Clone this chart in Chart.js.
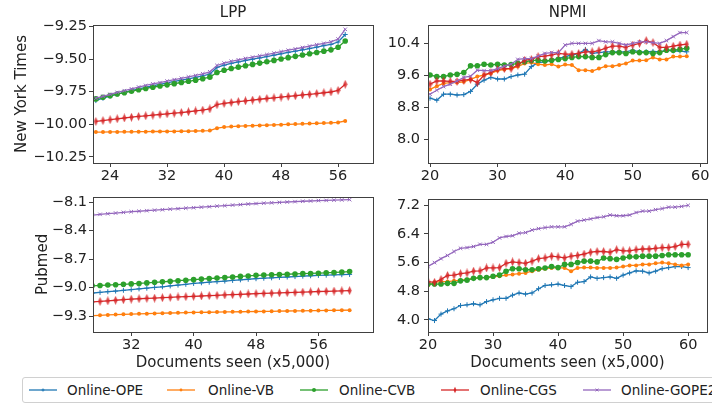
<!DOCTYPE html>
<html>
<head>
<meta charset="utf-8">
<script src="https://cdn.jsdelivr.net/npm/chart.js@4.4.1/dist/chart.umd.min.js"></script>
<style>
    body { margin: 0; width: 712px; height: 405px; overflow: hidden; background: #fff; font-family: 'DejaVu Sans', sans-serif; }
    canvas { position: absolute; }
    #legend { position: absolute; left: 22px; top: 377px; width: 720px; height: 24px; border: 1px solid #d0d0d0; border-radius: 3px; }
    .item { position: absolute; top: 0; height: 24px; font-size: 13.5px; line-height: 24px; color: #222; white-space: nowrap; }
    .item svg { position: absolute; top: 2px; }
</style>
</head>
<body>
<canvas id="tl" width="380" height="186" style="left:0;top:0"></canvas>
<canvas id="tr" width="332" height="186" style="left:380px;top:0"></canvas>
<canvas id="bl" width="380" height="190" style="left:0;top:186px"></canvas>
<canvas id="br" width="332" height="190" style="left:380px;top:186px"></canvas>
<div id="legend"></div>
<script>
// --- DATOS ---
const seriesNames = ['Online-OPE', 'Online-VB', 'Online-CVB', 'Online-CGS', 'Online-GOPE2'];
const seriesColors = ['#1f77b4', '#ff7f0e', '#2ca02c', '#d62728', '#9467bd'];

// New York Times - LPP
const nytLppX = [22, 23, 24, 25, 26, 27, 28, 29, 30, 31, 32, 33, 34, 35, 36, 37, 38, 39, 40, 41, 42, 43, 44, 45, 46, 47, 48, 49, 50, 51, 52, 53, 54, 55, 56, 57];
const nytLppOPE = [-9.818, -9.800, -9.784, -9.768, -9.755, -9.741, -9.728, -9.716, -9.704, -9.693, -9.682, -9.671, -9.661, -9.651, -9.640, -9.628, -9.614, -9.563, -9.546, -9.532, -9.521, -9.510, -9.500, -9.490, -9.480, -9.469, -9.458, -9.448, -9.438, -9.428, -9.418, -9.407, -9.396, -9.386, -9.368, -9.310];
const nytLppVB = [-10.060, -10.060, -10.059, -10.059, -10.058, -10.058, -10.057, -10.057, -10.056, -10.056, -10.055, -10.055, -10.054, -10.053, -10.052, -10.051, -10.049, -10.030, -10.022, -10.018, -10.015, -10.013, -10.011, -10.009, -10.007, -10.005, -10.003, -10.001, -9.999, -9.997, -9.995, -9.993, -9.991, -9.989, -9.986, -9.975];
const nytLppCVB = [-9.805, -9.792, -9.780, -9.768, -9.757, -9.746, -9.735, -9.725, -9.715, -9.706, -9.697, -9.688, -9.679, -9.670, -9.661, -9.650, -9.638, -9.602, -9.585, -9.572, -9.561, -9.550, -9.540, -9.530, -9.520, -9.509, -9.498, -9.488, -9.478, -9.468, -9.458, -9.448, -9.438, -9.428, -9.408, -9.360];
const nytLppCGS = [-9.978, -9.972, -9.965, -9.958, -9.952, -9.946, -9.940, -9.935, -9.930, -9.925, -9.920, -9.915, -9.910, -9.904, -9.898, -9.891, -9.882, -9.850, -9.840, -9.833, -9.826, -9.820, -9.814, -9.808, -9.802, -9.797, -9.791, -9.786, -9.781, -9.775, -9.770, -9.764, -9.758, -9.752, -9.740, -9.693];
const nytLppGOPE2 = [-9.800, -9.785, -9.770, -9.755, -9.742, -9.728, -9.714, -9.702, -9.690, -9.680, -9.668, -9.657, -9.647, -9.636, -9.625, -9.612, -9.597, -9.548, -9.530, -9.516, -9.505, -9.494, -9.484, -9.474, -9.464, -9.453, -9.442, -9.431, -9.421, -9.410, -9.399, -9.388, -9.378, -9.366, -9.345, -9.270];

// New York Times - NPMI
const nytNpmiX = [20, 21, 22, 23, 24, 25, 26, 27, 28, 29, 30, 31, 32, 33, 34, 35, 36, 37, 38, 39, 40, 41, 42, 43, 44, 45, 46, 47, 48, 49, 50, 51, 52, 53, 54, 55, 56, 57, 58];
const nytNpmiOPE = [9.03, 8.98, 9.13, 9.13, 9.11, 9.12, 9.20, 9.38, 9.48, 9.55, 9.51, 9.51, 9.57, 9.61, 9.63, 9.82, 9.92, 9.94, 9.98, 10.02, 10.07, 10.11, 10.15, 10.25, 10.15, 10.17, 10.19, 10.19, 10.19, 10.19, 10.23, 10.19, 10.19, 10.20, 10.19, 10.23, 10.21, 10.21, 10.19];
const nytNpmiVB = [9.25, 9.33, 9.40, 9.42, 9.42, 9.44, 9.50, 9.57, 9.61, 9.65, 9.72, 9.75, 9.77, 9.82, 9.90, 9.92, 9.88, 9.86, 9.88, 9.82, 9.87, 9.86, 9.73, 9.73, 9.71, 9.77, 9.83, 9.83, 9.86, 9.90, 9.97, 9.97, 9.98, 10.05, 10.00, 10.00, 10.07, 10.07, 10.08];
const nytNpmiCVB = [9.61, 9.57, 9.57, 9.61, 9.63, 9.67, 9.84, 9.84, 9.88, 9.86, 9.88, 9.86, 9.87, 9.90, 9.94, 9.97, 9.98, 9.96, 9.98, 10.00, 10.02, 10.05, 10.07, 10.07, 10.05, 10.05, 10.12, 10.17, 10.17, 10.15, 10.19, 10.17, 10.17, 10.15, 10.17, 10.23, 10.23, 10.25, 10.28];
const nytNpmiCGS = [9.38, 9.46, 9.46, 9.45, 9.45, 9.48, 9.50, 9.42, 9.61, 9.67, 9.75, 9.77, 9.77, 9.86, 9.98, 10.00, 10.07, 10.08, 10.11, 10.15, 10.13, 10.13, 10.15, 10.19, 10.19, 10.22, 10.28, 10.33, 10.33, 10.30, 10.36, 10.40, 10.47, 10.42, 10.30, 10.30, 10.33, 10.36, 10.38];
const nytNpmiGOPE2 = [9.13, 9.23, 9.32, 9.38, 9.46, 9.55, 9.58, 9.73, 9.72, 9.72, 9.77, 9.83, 9.88, 10.00, 10.02, 10.02, 10.08, 10.15, 10.17, 10.17, 10.36, 10.40, 10.40, 10.40, 10.40, 10.47, 10.44, 10.44, 10.40, 10.36, 10.40, 10.44, 10.44, 10.42, 10.40, 10.47, 10.57, 10.67, 10.67];

// Pubmed - LPP
const pubLppX = [27, 28, 29, 30, 31, 32, 33, 34, 35, 36, 37, 38, 39, 40, 41, 42, 43, 44, 45, 46, 47, 48, 49, 50, 51, 52, 53, 54, 55, 56, 57, 58, 59, 60];
const pubLppOPE = [-9.056, -9.049, -9.042, -9.035, -9.027, -9.020, -9.012, -9.005, -8.997, -8.990, -8.981, -8.972, -8.964, -8.955, -8.948, -8.942, -8.936, -8.930, -8.923, -8.917, -8.911, -8.905, -8.900, -8.896, -8.891, -8.887, -8.883, -8.878, -8.874, -8.870, -8.868, -8.865, -8.863, -8.860];
const pubLppVB = [-9.293, -9.290, -9.286, -9.283, -9.280, -9.277, -9.275, -9.273, -9.271, -9.268, -9.266, -9.264, -9.262, -9.260, -9.259, -9.258, -9.256, -9.255, -9.254, -9.253, -9.251, -9.250, -9.249, -9.248, -9.246, -9.245, -9.244, -9.243, -9.242, -9.240, -9.239, -9.238, -9.237, -9.236];
const pubLppCVB = [-8.980, -8.976, -8.972, -8.968, -8.964, -8.960, -8.955, -8.949, -8.943, -8.938, -8.932, -8.926, -8.921, -8.915, -8.909, -8.903, -8.898, -8.892, -8.887, -8.881, -8.876, -8.870, -8.867, -8.864, -8.861, -8.858, -8.855, -8.852, -8.850, -8.847, -8.843, -8.839, -8.835, -8.830];
const pubLppCGS = [-9.150, -9.144, -9.138, -9.132, -9.126, -9.120, -9.116, -9.112, -9.109, -9.105, -9.101, -9.097, -9.094, -9.090, -9.087, -9.083, -9.080, -9.076, -9.073, -9.070, -9.066, -9.063, -9.060, -9.057, -9.054, -9.051, -9.049, -9.046, -9.043, -9.040, -9.038, -9.035, -9.033, -9.030];
const pubLppGOPE2 = [-8.236, -8.228, -8.221, -8.214, -8.207, -8.200, -8.195, -8.189, -8.184, -8.179, -8.173, -8.168, -8.163, -8.158, -8.152, -8.147, -8.141, -8.136, -8.130, -8.125, -8.119, -8.114, -8.110, -8.106, -8.102, -8.098, -8.094, -8.090, -8.087, -8.083, -8.081, -8.078, -8.076, -8.073];

// Pubmed - NPMI
const pubNpmiX = [20, 21, 22, 23, 24, 25, 26, 27, 28, 29, 30, 31, 32, 33, 34, 35, 36, 37, 38, 39, 40, 41, 42, 43, 44, 45, 46, 47, 48, 49, 50, 51, 52, 53, 54, 55, 56, 57, 58, 59, 60];
const pubNpmiOPE = [4.03, 3.98, 4.16, 4.25, 4.31, 4.40, 4.42, 4.45, 4.42, 4.51, 4.56, 4.60, 4.60, 4.69, 4.75, 4.72, 4.75, 4.87, 4.96, 4.98, 5.00, 4.96, 4.93, 5.05, 5.07, 5.20, 5.16, 5.18, 5.20, 5.16, 5.25, 5.31, 5.37, 5.36, 5.31, 5.36, 5.43, 5.46, 5.49, 5.49, 5.46];
const pubNpmiVB = [4.96, 5.05, 5.07, 5.07, 5.09, 5.11, 5.13, 5.16, 5.18, 5.18, 5.20, 5.22, 5.25, 5.27, 5.29, 5.31, 5.36, 5.40, 5.43, 5.45, 5.45, 5.45, 5.36, 5.45, 5.46, 5.46, 5.45, 5.45, 5.45, 5.46, 5.49, 5.52, 5.52, 5.55, 5.55, 5.58, 5.60, 5.58, 5.55, 5.52, 5.55];
const pubNpmiCVB = [5.00, 5.00, 5.00, 5.02, 5.02, 5.09, 5.11, 5.16, 5.18, 5.18, 5.22, 5.25, 5.36, 5.43, 5.43, 5.40, 5.40, 5.43, 5.45, 5.49, 5.46, 5.55, 5.55, 5.60, 5.64, 5.64, 5.62, 5.73, 5.71, 5.69, 5.73, 5.76, 5.76, 5.78, 5.78, 5.78, 5.80, 5.82, 5.82, 5.82, 5.82];
const pubNpmiCGS = [5.07, 5.05, 5.13, 5.24, 5.25, 5.29, 5.31, 5.36, 5.37, 5.45, 5.45, 5.46, 5.58, 5.62, 5.60, 5.58, 5.64, 5.71, 5.73, 5.78, 5.76, 5.73, 5.78, 5.80, 5.84, 5.89, 5.91, 5.91, 5.89, 5.96, 5.93, 5.93, 5.96, 5.98, 5.98, 6.00, 6.02, 6.02, 6.05, 6.11, 6.11];
const pubNpmiGOPE2 = [5.49, 5.60, 5.71, 5.80, 5.91, 6.00, 6.02, 6.05, 6.11, 6.11, 6.17, 6.29, 6.33, 6.35, 6.42, 6.44, 6.51, 6.55, 6.58, 6.60, 6.60, 6.60, 6.67, 6.76, 6.79, 6.82, 6.86, 6.88, 6.93, 6.91, 6.91, 6.93, 7.00, 7.04, 7.04, 7.08, 7.11, 7.15, 7.15, 7.17, 7.20];

// Marcas de los ejes
const nytLppXTicks = [24, 32, 40, 48, 56];
const nytLppYTicks = [-10.25, -10.00, -9.75, -9.50, -9.25];
const nytNpmiXTicks = [20, 30, 40, 50, 60];
const nytNpmiYTicks = [8.0, 8.8, 9.6, 10.4];
const pubLppXTicks = [32, 40, 48, 56];
const pubLppYTicks = [-9.3, -9.0, -8.7, -8.4, -8.1];
const pubNpmiXTicks = [20, 30, 40, 50, 60];
const pubNpmiYTicks = [4.0, 4.8, 5.6, 6.4, 7.2];

// --- MARCADORES ---
function thinDiamond(color) {
    const c = document.createElement('canvas');
    c.width = 5; c.height = 9;
    const g = c.getContext('2d');
    g.fillStyle = color;
    g.globalAlpha = 0.85;
    g.beginPath();
    g.moveTo(2.5, 0); g.lineTo(4.6, 4.5); g.lineTo(2.5, 9); g.lineTo(0.4, 4.5);
    g.closePath();
    g.fill();
    return c;
}
const markerStyles = [
    { pointStyle: 'cross', pointRadius: 2.5, pointBorderWidth: 1 },
    { pointStyle: 'circle', pointRadius: 2, pointBorderWidth: 0 },
    { pointStyle: 'circle', pointRadius: 2.8, pointBorderWidth: 0 },
    { pointStyle: thinDiamond(seriesColors[3]), pointRadius: 4, pointBorderWidth: 0 },
    { pointStyle: 'crossRot', pointRadius: 2.5, pointBorderWidth: 1 }
];

const textColor = '#222';
const font = { family: "'DejaVu Sans', sans-serif", size: 14.5 };

// marco completo alrededor del área del gráfico
const framePlugin = {
    id: 'frame',
    afterDraw(chart) {
        const { ctx, chartArea: a } = chart;
        ctx.save();
        ctx.strokeStyle = '#404040';
        ctx.lineWidth = 1;
        ctx.strokeRect(Math.round(a.left) + 0.5, Math.round(a.top) + 0.5, Math.round(a.right - a.left), Math.round(a.bottom - a.top));
        ctx.restore();
    }
};

function fmt(decimals) {
    return v => v.toFixed(decimals).replace('-', '\u2212');
}

function makePanel(id, p) {
    const datasets = p.ys.map((ys, i) => Object.assign({
        label: seriesNames[i],
        data: p.xs.map((x, j) => ({ x: x, y: ys[j] })),
        borderColor: seriesColors[i],
        backgroundColor: seriesColors[i],
        pointBorderColor: seriesColors[i],
        pointBackgroundColor: seriesColors[i],
        borderWidth: 1.3,
        tension: 0,
        order: 5 - i
    }, markerStyles[i]));

    return new Chart(document.getElementById(id), {
        type: 'line',
        data: { datasets },
        plugins: [framePlugin],
        options: {
            responsive: false,
            animation: false,
            events: [],
            layout: { padding: { top: p.padTop, right: p.padRight, left: 0, bottom: 0 } },
            plugins: {
                legend: { display: false },
                tooltip: { enabled: false },
                title: {
                    display: !!p.title,
                    text: p.title,
                    fullSize: false,
                    color: textColor,
                    font: { family: font.family, size: 15, weight: 'normal', lineHeight: 1.2 },
                    padding: { top: 4, bottom: 3 }
                }
            },
            scales: {
                x: {
                    type: 'linear',
                    min: p.xMin, max: p.xMax,
                    afterBuildTicks: s => { s.ticks = p.xTicks.map(v => ({ value: v })); },
                    afterFit: s => { s.height = p.xAxisH; },
                    ticks: { color: textColor, font, padding: 1, maxRotation: 0, autoSkip: false, callback: fmt(0) },
                    grid: { drawOnChartArea: false, drawTicks: true, tickLength: 4, tickColor: '#404040' },
                    border: { display: false },
                    title: {
                        display: !!p.xTitle,
                        text: p.xTitle,
                        color: textColor,
                        font: { family: font.family, size: 15, lineHeight: 1.2 },
                        padding: { top: 0, bottom: 3.5 }
                    }
                },
                y: {
                    type: 'linear',
                    min: p.yMin, max: p.yMax,
                    afterBuildTicks: s => { s.ticks = p.yTicks.map(v => ({ value: v })); },
                    afterFit: s => { s.width = p.yAxisW; },
                    ticks: { color: textColor, font, padding: p.yTickPad, autoSkip: false, callback: fmt(p.yDec) },
                    grid: { drawOnChartArea: false, drawTicks: true, tickLength: 4, tickColor: '#404040' },
                    border: { display: false },
                    title: {
                        display: !!p.yTitle,
                        text: p.yTitle,
                        color: textColor,
                        font: { family: font.family, size: 15, lineHeight: 1.2 },
                        padding: { top: p.yTitlePad, bottom: 0 }
                    }
                }
            }
        }
    });
}

makePanel('tl', {
    xs: nytLppX, ys: [nytLppOPE, nytLppVB, nytLppCVB, nytLppCGS, nytLppGOPE2],
    xMin: 21.6, xMax: 60.9, yMin: -10.298, yMax: -9.237,
    xTicks: nytLppXTicks, yTicks: nytLppYTicks, yDec: 2,
    title: 'LPP', yTitle: 'New York Times', yTitlePad: 13,
    padTop: 0, padRight: 7, xAxisH: 23, yAxisW: 93, yTickPad: 2
});
makePanel('tr', {
    xs: nytNpmiX, ys: [nytNpmiOPE, nytNpmiVB, nytNpmiCVB, nytNpmiCGS, nytNpmiGOPE2],
    xMin: 19.7, xMax: 61.0, yMin: 7.41, yMax: 10.86,
    xTicks: nytNpmiXTicks, yTicks: nytNpmiYTicks, yDec: 1,
    title: 'NPMI', yTitle: '',
    padTop: 0, padRight: 5, xAxisH: 23, yAxisW: 48, yTickPad: 4
});
makePanel('bl', {
    xs: pubLppX, ys: [pubLppOPE, pubLppVB, pubLppCVB, pubLppCGS, pubLppGOPE2],
    xMin: 27.1, xMax: 63.0, yMin: -9.466, yMax: -8.042,
    xTicks: pubLppXTicks, yTicks: pubLppYTicks, yDec: 1,
    title: '', yTitle: 'Pubmed', yTitlePad: 34, xTitle: 'Documents seen (x5,000)',
    padTop: 6, padRight: 7, xAxisH: 44, yAxisW: 93, yTickPad: 2
});
makePanel('br', {
    xs: pubNpmiX, ys: [pubNpmiOPE, pubNpmiVB, pubNpmiCVB, pubNpmiCGS, pubNpmiGOPE2],
    xMin: 20.0, xMax: 62.9, yMin: 3.66, yMax: 7.386,
    xTicks: pubNpmiXTicks, yTicks: pubNpmiYTicks, yDec: 1,
    title: '', yTitle: '', xTitle: 'Documents seen (x5,000)',
    padTop: 6, padRight: 5, xAxisH: 44, yAxisW: 48, yTickPad: 4
});

// --- LEYENDA ---
const legendLineX = [6, 144, 277, 418, 560];
const legendTextX = [44, 185, 316, 457, 598];
const legend = document.getElementById('legend');
seriesNames.forEach((name, i) => {
    const item = document.createElement('div');
    item.className = 'item';
    item.style.left = legendLineX[i] + 'px';
    const c = seriesColors[i];
    let mark;
    if (i === 0) mark = `<path d="M12.5 10h3M14 8.5v3" stroke="${c}" stroke-width="1"/>`;
    else if (i === 1) mark = `<circle cx="14" cy="10" r="1.4" fill="${c}"/>`;
    else if (i === 2) mark = `<circle cx="14" cy="10" r="2" fill="${c}"/>`;
    else if (i === 3) mark = `<path d="M14 6.8L15.4 10L14 13.2L12.6 10Z" fill="${c}"/>`;
    else mark = `<path d="M12.6 8.6l2.8 2.8M15.4 8.6l-2.8 2.8" stroke="${c}" stroke-width="1"/>`;
    item.innerHTML = `<svg width="28" height="20"><line x1="0" y1="10" x2="28" y2="10" stroke="${c}" stroke-width="1.3"/>${mark}</svg>` +
        `<span style="position:absolute;left:${legendTextX[i] - legendLineX[i]}px">${name}</span>`;
    legend.appendChild(item);
});
</script>
</body>
</html>
